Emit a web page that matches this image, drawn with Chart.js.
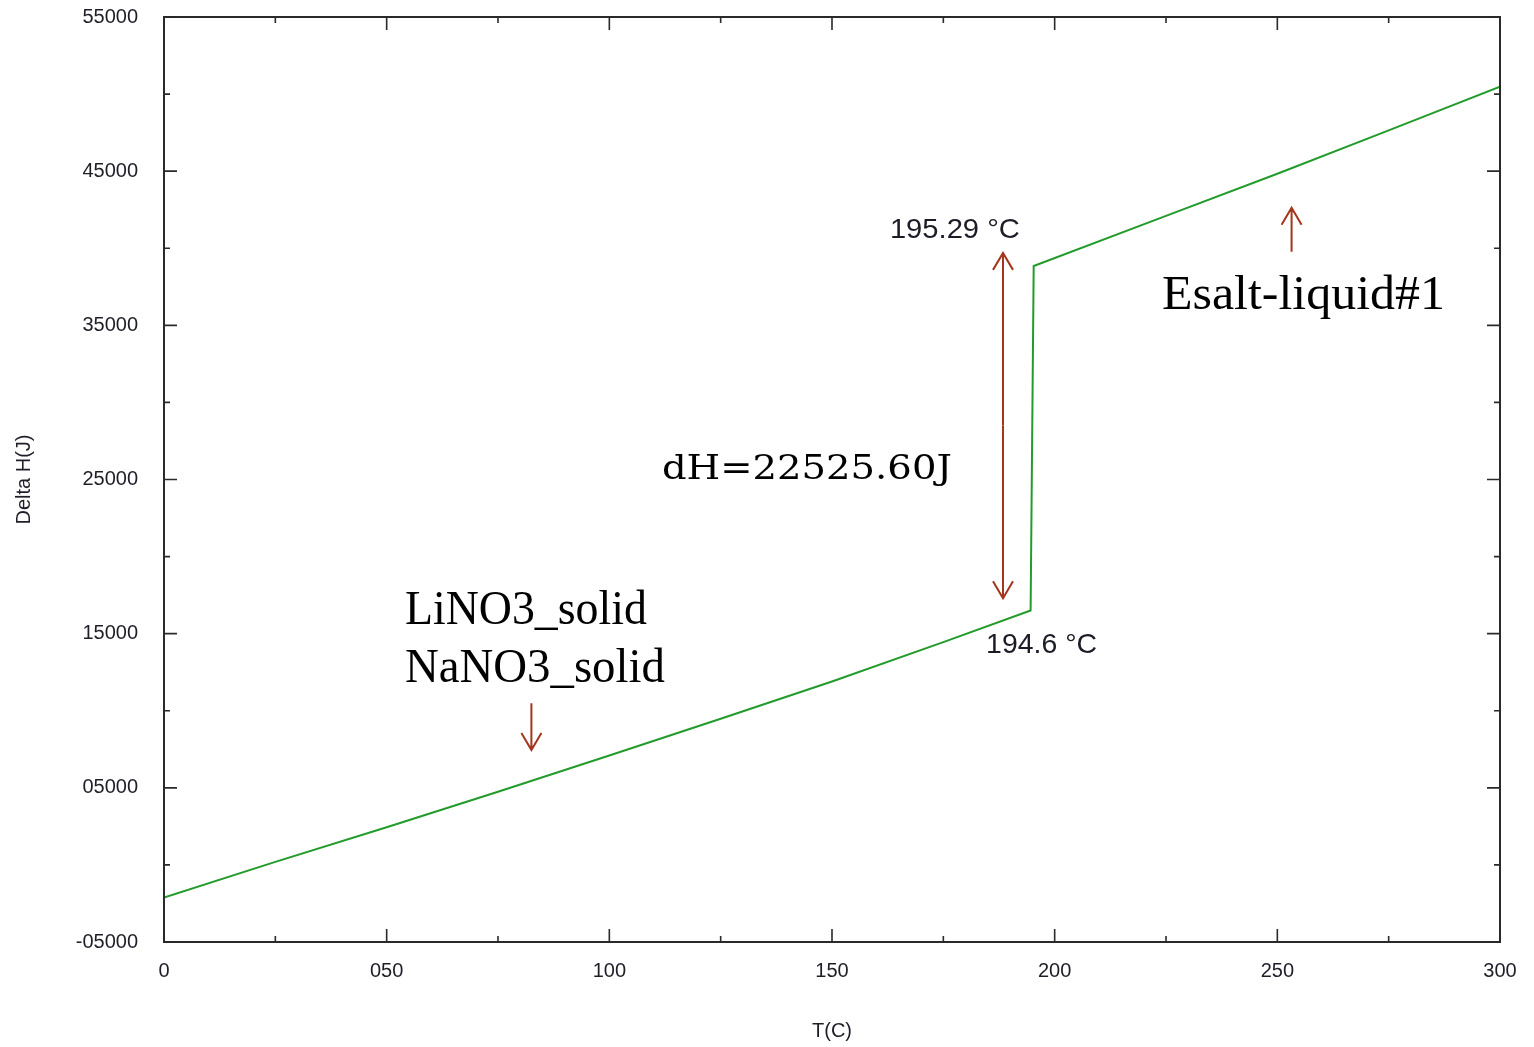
<!DOCTYPE html>
<html>
<head>
<meta charset="utf-8">
<title>Delta H vs T</title>
<script src="https://cdn.jsdelivr.net/npm/chart.js@4.4.0/dist/chart.umd.min.js"></script>
<style>
  html, body { margin: 0; padding: 0; background: #ffffff; }
  #wrap { width: 1534px; height: 1047px; }
</style>
</head>
<body>
<div id="wrap"><canvas id="dhChart" width="1534" height="1047"></canvas></div>
<script>
// values
const solidT = [0, 25, 50, 75, 100, 125, 150, 175, 194.6];
const solidH = [-2120, 200, 2440, 4750, 7100, 9480, 11900, 14450, 16500];
const liquidT = [195.29, 225, 250, 275, 300];
const liquidH = [38850, 42100, 44830, 47650, 50480];

// tick labels as printed on the original
const xTickValues = [0, 50, 100, 150, 200, 250, 300];
const xTickLabels = ['0', '050', '100', '150', '200', '250', '300'];
const yTickValues = [-5000, 5000, 15000, 25000, 35000, 45000, 55000];
const yTickLabels = ['-05000', '05000', '15000', '25000', '35000', '45000', '55000'];

// annotation arrows (data coords)
const arrowT = [188.4, 188.4, 253.2, 82.5];
const arrowFromH = [28500, 28500, 39780, 10480];
const arrowToH = [39700, 17300, 42630, 7450];

// annotation texts (data coords, left/baseline)
const noteTexts = ['195.29 °C', '194.6 °C', 'dH=22525.60J', 'LiNO3_solid', 'NaNO3_solid', 'Esalt-liquid#1'];
const noteT = [163.0, 184.6, 111.8, 54.1, 54.1, 224.1];
const noteH = [40665, 13746, 25032, 15627, 11865, 36059];

const points = [];
solidT.forEach((t, i) => points.push({ x: t, y: solidH[i] }));
liquidT.forEach((t, i) => points.push({ x: t, y: liquidH[i] }));

// styles for the notes: font, target width
const noteStyle = [
    { font: '28px "Liberation Sans", Arial, sans-serif', width: 130, color: '#1c1c26' },
    { font: '28px "Liberation Sans", Arial, sans-serif', width: 111, color: '#1c1c26' },
    { font: '33px "DejaVu Serif", serif', width: 290, color: '#000' },
    { font: '48px "Liberation Serif", serif', width: 242, color: '#000' },
    { font: '48px "Liberation Serif", serif', width: 260, color: '#000' },
    { font: '49px "Liberation Serif", serif', width: 283, color: '#000' }
];

function labelFor(values, labels, v) {
    const i = values.indexOf(v);
    return i >= 0 ? labels[i] : '';
}

const framePlugin = {
    id: 'framePlugin',
    afterDatasetsDraw(chart) {
        const ctx = chart.ctx;
        const a = chart.chartArea;
        const xs = chart.scales.x;
        const ys = chart.scales.y;

        ctx.save();
        ctx.strokeStyle = '#2a2a2a';
        ctx.lineWidth = 2;
        ctx.strokeRect(a.left, a.top, a.right - a.left, a.bottom - a.top);

        // inward ticks on all four sides
        ctx.lineWidth = 1.6;
        ctx.beginPath();
        xs.ticks.forEach(t => {
            const px = xs.getPixelForValue(t.value);
            const len = xTickValues.includes(t.value) ? 13 : 6;
            ctx.moveTo(px, a.bottom); ctx.lineTo(px, a.bottom - len);
            ctx.moveTo(px, a.top); ctx.lineTo(px, a.top + len);
        });
        ys.ticks.forEach(t => {
            const py = ys.getPixelForValue(t.value);
            const len = yTickValues.includes(t.value) ? 13 : 6;
            ctx.moveTo(a.left, py); ctx.lineTo(a.left + len, py);
            ctx.moveTo(a.right, py); ctx.lineTo(a.right - len, py);
        });
        ctx.stroke();

        // arrows
        ctx.strokeStyle = '#a3361c';
        ctx.lineWidth = 2;
        arrowT.forEach((t, i) => {
            const px = xs.getPixelForValue(t);
            const y0 = ys.getPixelForValue(arrowFromH[i]);
            const y1 = ys.getPixelForValue(arrowToH[i]);
            const dir = y1 < y0 ? 1 : -1;
            ctx.beginPath();
            ctx.moveTo(px, y0); ctx.lineTo(px, y1);
            ctx.moveTo(px - 10, y1 + dir * 17); ctx.lineTo(px, y1); ctx.lineTo(px + 10, y1 + dir * 17);
            ctx.stroke();
        });

        // notes
        ctx.textAlign = 'left';
        ctx.textBaseline = 'alphabetic';
        noteTexts.forEach((txt, i) => {
            const st = noteStyle[i];
            const px = xs.getPixelForValue(noteT[i]);
            const py = ys.getPixelForValue(noteH[i]);
            ctx.font = st.font;
            ctx.fillStyle = st.color;
            const w = ctx.measureText(txt).width;
            ctx.save();
            ctx.translate(px, py);
            ctx.scale(st.width / w, 1);
            ctx.fillText(txt, 0, 0);
            ctx.restore();
        });
        ctx.restore();
    }
};

const dhCtx = document.getElementById('dhChart').getContext('2d');
const dhChart = new Chart(dhCtx, {
    type: 'line',
    data: {
        datasets: [{
            label: 'Delta H',
            data: points,
            borderColor: '#229b2a',
            borderWidth: 2,
            pointRadius: 0,
            fill: false,
            tension: 0
        }]
    },
    options: {
        responsive: false,
        animation: false,
        devicePixelRatio: 1,
        layout: {
            padding: { left: 0, right: 34, top: 17, bottom: 0 }
        },
        plugins: {
            legend: { display: false },
            tooltip: { enabled: false }
        },
        scales: {
            x: {
                type: 'linear',
                min: 0,
                max: 300,
                grid: { display: false, drawTicks: false },
                border: { display: false },
                ticks: {
                    stepSize: 25,
                    autoSkip: false,
                    maxRotation: 0,
                    padding: 17,
                    color: '#1e1e28',
                    font: { family: '"Liberation Sans", Arial, sans-serif', size: 20 },
                    callback: function(value) {
                        return labelFor(xTickValues, xTickLabels, value);
                    }
                },
                title: {
                    display: true,
                    text: 'T(C)',
                    color: '#1e1e28',
                    font: { family: '"Liberation Sans", Arial, sans-serif', size: 20 },
                    padding: { top: 0, bottom: 4 }
                },
                afterFit: function(scale) {
                    scale.height = 105;
                    scale.paddingLeft = 0;
                    scale.paddingRight = 0;
                }
            },
            y: {
                type: 'linear',
                min: -5000,
                max: 55000,
                grid: { display: false, drawTicks: false },
                border: { display: false },
                ticks: {
                    stepSize: 5000,
                    autoSkip: false,
                    padding: 26,
                    color: '#1e1e28',
                    font: { family: '"Liberation Sans", Arial, sans-serif', size: 20 },
                    callback: function(value) {
                        return labelFor(yTickValues, yTickLabels, value);
                    }
                },
                title: {
                    display: true,
                    text: 'Delta H(J)',
                    color: '#1e1e28',
                    font: { family: '"Liberation Sans", Arial, sans-serif', size: 20 },
                    padding: { top: 12, bottom: 0 }
                },
                afterFit: function(scale) {
                    scale.width = 164;
                    scale.paddingTop = 0;
                    scale.paddingBottom = 0;
                }
            }
        }
    },
    plugins: [framePlugin]
});
</script>
</body>
</html>
